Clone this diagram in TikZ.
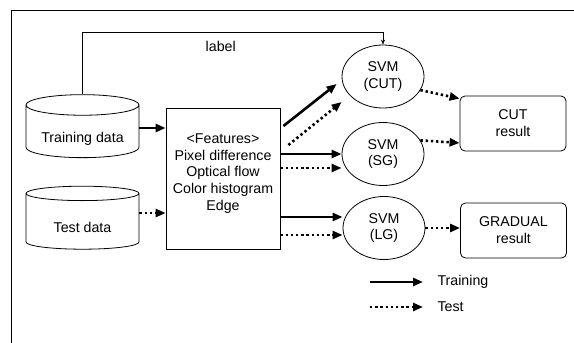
\documentclass[tikz,border=0pt]{standalone}
\usepackage{fontspec}
\setmainfont{Liberation Sans}
\usetikzlibrary{shapes.geometric,arrows.meta}

\tikzset{
  every node/.style={font=\fontsize{14.2}{16.8}\selectfont,align=center},
  database/.style={draw,thick,cylinder,shape border rotate=90,aspect=0.25,
    minimum width=113pt,minimum height=63pt,inner sep=0pt,text height=25pt,text depth=3pt},
  svm/.style={draw,thick,ellipse,minimum width=82pt,minimum height=63pt,inner sep=0pt},
  result/.style={draw,thick,rounded corners=5pt,minimum width=106pt,minimum height=55pt,inner sep=0pt},
  train/.style={line width=2.6pt,-{Triangle[length=10pt,width=8pt]}},
  test/.style={line width=2.6pt,dash pattern=on 2.4pt off 2.8pt,-{Triangle[length=10pt,width=8pt]}}
}

\begin{document}
\begin{tikzpicture}[x=1pt,y=-1pt]
    \useasboundingbox (0,0) rectangle (574,343);
    \draw[thick] (11,343) -- (11,10) -- (574,10);

    % data
    \node[database] (traindata) at (82.5,131.5) {Training data};
    \node[database] (testdata) at (82.5,221.5) {Test data};

    % features
    \node[draw,thick,minimum width=114pt,minimum height=141pt] (features) at (223,178.5) {};
    \node[anchor=north] (featurelist) at (223,130)
      {<Features>\\Pixel difference\\Optical flow\\Color histogram\\Edge};

    % classifiers
    \node[svm] (svmcut) at (383,76.5) {SVM\\(CUT)};
    \node[svm] (svmsg) at (383,154) {SVM\\(SG)};
    \node[svm] (svmlg) at (384,228) {SVM\\(LG)};

    \node[result] (cutres) at (513,123.5) {CUT\\result};
    \node[result] (gradres) at (513.5,230.5) {GRADUAL\\result};

    % label line
    \draw[-{Stealth[length=5pt,width=4pt]}] (traindata.north) -- (traindata.north |- 0,32)
      -| (svmcut.north) node[pos=0.23,below=6pt] (labeltxt) {label};

    \draw[train] (traindata.east |- 0,128) -- (features.west |- 0,128);
    \draw[test] (testdata.east |- 0,213) -- (features.west |- 0,213);

    \draw[train] ([xshift=3pt]features.east |- 0,126) -- ([xshift=-5pt]svmcut.west |- 0,84);
    \draw[test] ([xshift=8pt]features.east |- 0,145) -- (svmcut.west |- 0,102);
    \draw[train] (features.east |- 0,154) -- (svmsg.west |- 0,154);
    \draw[test] (features.east |- 0,168) -- (svmsg.west |- 0,168);
    \draw[train] (features.east |- 0,217) -- (svmlg.west |- 0,217);
    \draw[test] (features.east |- 0,235) -- (svmlg.west |- 0,235);

    \draw[test] (svmcut.-20) -- (cutres.155);
    \draw[test] (svmsg.20) -- (cutres.200);
    \draw[test] (svmlg.east) -- (gradres.west |- svmlg.east);

    % legend
    \coordinate (trainfrom) at (370,282);
    \coordinate (trainto) at (423,282);
    \coordinate (testfrom) at (370,307);
    \coordinate (testto) at (423,307);
    \draw[train] (trainfrom) -- (trainto);
    \draw[test] (testfrom) -- (testto);
    \node[anchor=west] (trainkey) at (434,282) {Training};
    \node[anchor=west] (testkey) at (434,307) {Test};
\end{tikzpicture}
\end{document}
